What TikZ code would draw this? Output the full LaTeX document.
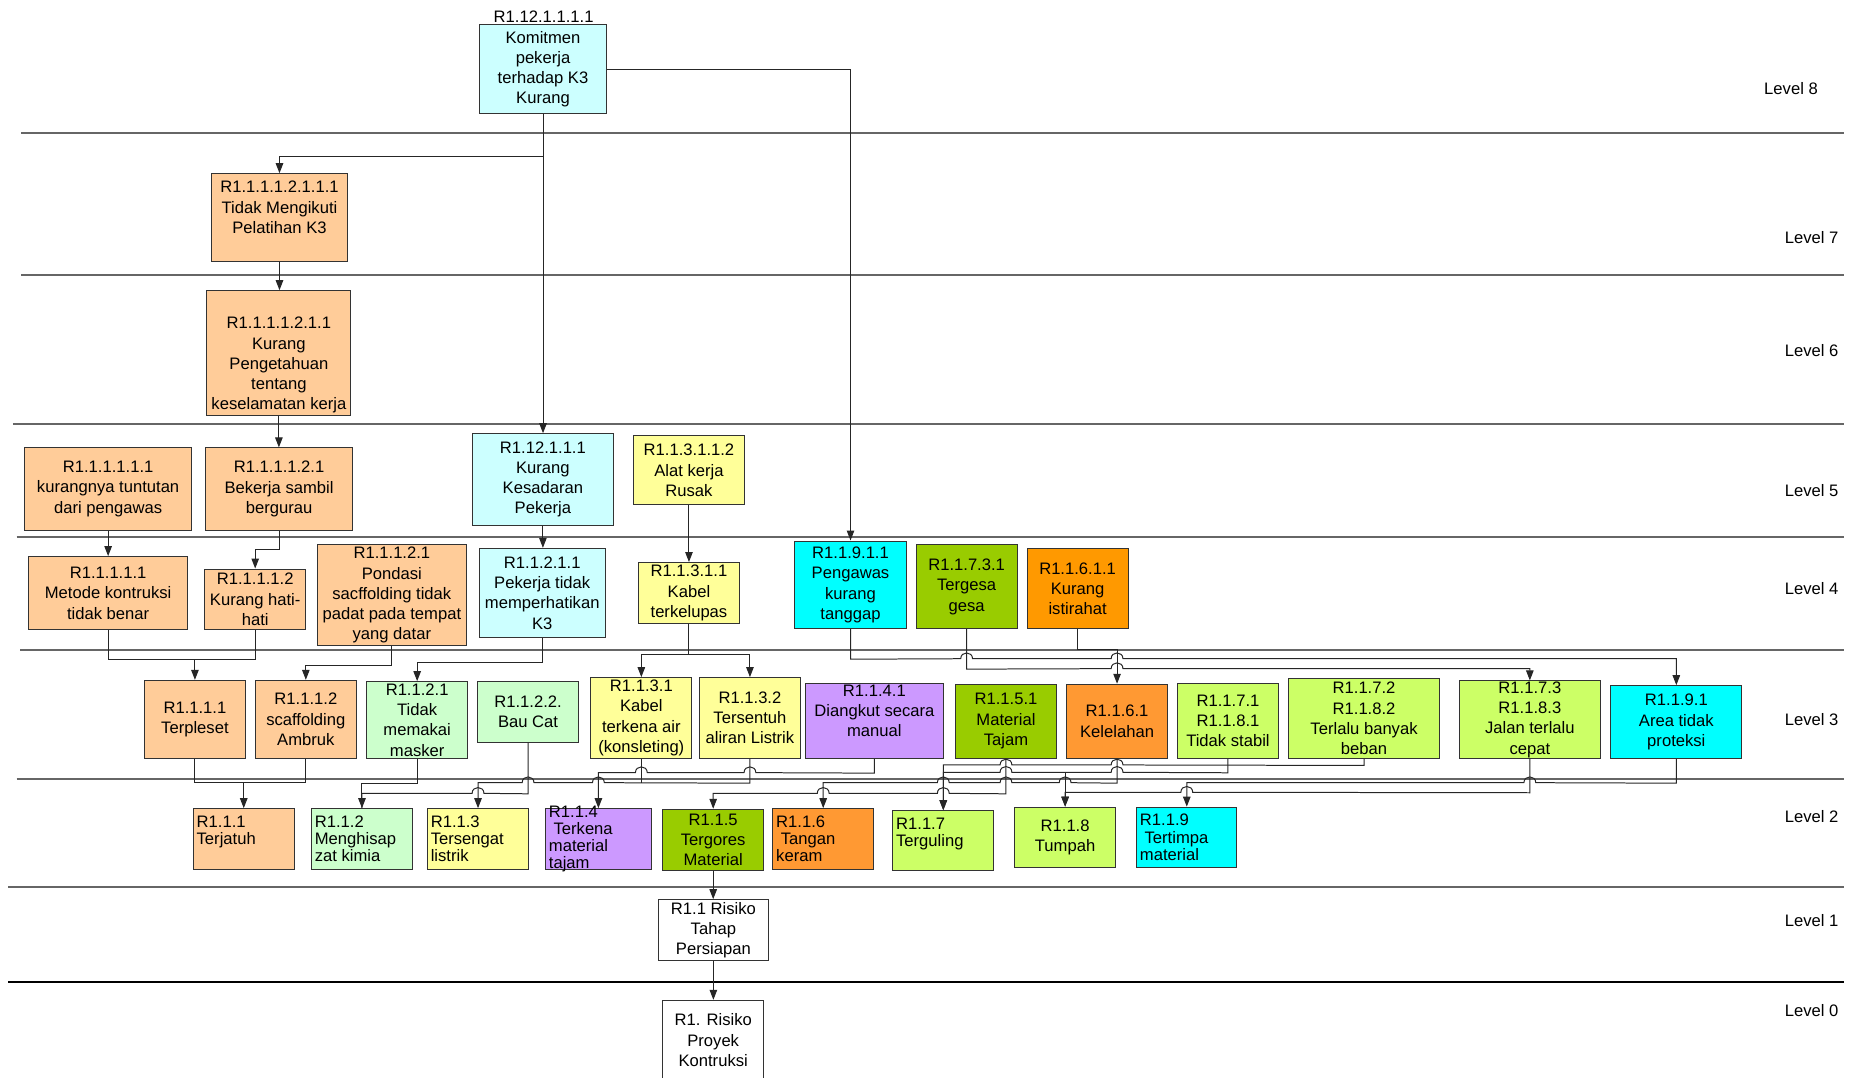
\documentclass[tikz,border=0pt]{standalone}
\usepackage{fontspec}
\setmainfont{Liberation Sans}
\usetikzlibrary{arrows.meta}
\definecolor{peach}{HTML}{FFCC99}
\definecolor{cyanL}{HTML}{CCFFFF}
\definecolor{yelL}{HTML}{FFFF99}
\definecolor{grnL}{HTML}{CCFFCC}
\definecolor{purp}{HTML}{CC99FF}
\definecolor{oliv}{HTML}{99CC00}
\definecolor{orng}{HTML}{FF9900}
\definecolor{orngB}{HTML}{FF9933}
\definecolor{limeB}{HTML}{CCFF66}
\definecolor{cyn}{HTML}{00FFFF}
\newcommand\txC{\centering}
\newcommand\txL{\raggedright\leftskip=2pt\relax}
\newcommand\mkbox[7]{%
  \pgfmathsetmacro\bcx{(#3+#5)/2}%
  \pgfmathsetmacro\bcy{(#4+#6)/2}%
  \pgfmathsetmacro\bw{(#5-#3)*0.025}%
  \pgfmathsetmacro\bh{(#6-#4)*0.025}%
  \node[boxs,#2] (#1) at (\bcx,\bcy) {\begin{minipage}[c][\bh cm][c]{\bw cm}#7\end{minipage}};%
}
\tikzset{
  boxs/.style={draw=black!80, line width=0.6pt, inner sep=0pt, font=\fontsize{10}{12.2}\selectfont},
  tight/.style={font=\fontsize{10}{10.4}\selectfont},
  conn/.style={draw=black!85, line width=0.6pt},
  arr/.style={conn, -{Triangle[length=6pt,width=4.5pt]}},
  lvl/.style={draw=black!60, line width=1.1pt},
  lvlz/.style={draw=black, line width=0.8pt},
  lvltxt/.style={font=\fontsize{10}{12}\selectfont, anchor=east, inner sep=0pt},
  jr/.style args={#1/#2}{insert path={-- (#1-5,#2) .. controls (#1-5,#2-6.5) and (#1+5,#2-6.5) .. (#1+5,#2)}},
  jl/.style args={#1/#2}{insert path={-- (#1+5,#2) .. controls (#1+5,#2-6.5) and (#1-5,#2-6.5) .. (#1-5,#2)}},
}
\begin{document}
\begin{tikzpicture}[x=0.025cm,y=-0.025cm]
\useasboundingbox (0,0) rectangle (1568,912);
% level separators
\draw[lvl] (18,112.5) -- (1560,112.5);
\draw[lvl] (18,232.7) -- (1560,232.7);
\draw[lvl] (11,358.8) -- (1560,358.8);
\draw[lvl] (14,454.4) -- (1560,454.4);
\draw[lvl] (17,550) -- (1560,550);
\draw[lvl] (14,659.2) -- (1560,659.2);
\draw[lvl] (7,750.6) -- (1560,750.6);
\draw[lvlz] (7,831) -- (1560,831);
% level labels
\node[lvltxt] (lv8) at (1538.5,74.7) {Level 8};
\node[lvltxt] (lv7) at (1556,200.8) {Level 7};
\node[lvltxt] (lv6) at (1556,297) {Level 6};
\node[lvltxt] (lv5) at (1556,415) {Level 5};
\node[lvltxt] (lv4) at (1556,497.8) {Level 4};
\node[lvltxt] (lv3) at (1556,608.7) {Level 3};
\node[lvltxt] (lv2) at (1556,691) {Level 2};
\node[lvltxt] (lv1) at (1556,779) {Level 1};
\node[lvltxt] (lv0) at (1556,855) {Level 0};
% level 8
\mkbox{K}{fill=cyanL}{406}{21}{513}{96}{\txC Komitmen\\pekerja\\terhadap K3\\Kurang}
\node[font=\fontsize{10}{12}\selectfont, inner sep=0pt] (Klabel) at (460,14) {R1.12.1.1.1.1};
% level 7
\mkbox{T7}{fill=peach}{179}{147}{294}{221}{\txC R1.1.1.1.2.1.1.1\\Tidak Mengikuti\\Pelatihan K3\\\mbox{}}
% level 6
\mkbox{T6}{fill=peach}{175}{246}{297}{352}{\txC \vspace*{0.32cm}\mbox{}\\R1.1.1.1.2.1.1\\Kurang\\Pengetahuan\\tentang\\keselamatan kerja}
% level 5
\mkbox{A5}{fill=peach}{21}{379}{162}{448.5}{\txC R1.1.1.1.1.1\\kurangnya tuntutan\\dari pengawas}
\mkbox{B5}{fill=peach}{174.3}{379}{298}{448.5}{\txC R1.1.1.1.2.1\\Bekerja sambil\\bergurau}
\mkbox{C5}{fill=cyanL}{399.8}{367}{519}{444.3}{\txC R1.12.1.1.1\\Kurang\\Kesadaran\\Pekerja}
\mkbox{D5}{fill=yelL}{536}{368.7}{630}{427.3}{\txC R1.1.3.1.1.2\\Alat kerja\\Rusak}
% level 4
\mkbox{A4}{fill=peach}{24.4}{471}{158.6}{533}{\txC R1.1.1.1.1\\Metode kontruksi\\tidak benar}
\mkbox{B4}{fill=peach}{173.3}{481.5}{258.6}{533}{\txC R1.1.1.1.2\\Kurang hati-\\hati}
\mkbox{C4}{fill=peach}{268.7}{461}{394.5}{546.4}{\txC R1.1.1.2.1\\Pondasi\\sacffolding tidak\\padat pada tempat\\yang datar}
\mkbox{D4}{fill=cyanL}{405.5}{464}{512.2}{539.6}{\txC R1.1.2.1.1\\Pekerja tidak\\memperhatikan\\K3}
\mkbox{E4}{fill=yelL}{540.2}{476}{625.8}{527.7}{\txC R1.1.3.1.1\\Kabel\\terkelupas}
\mkbox{F4}{fill=cyn}{672.4}{457.8}{767}{532}{\txC R1.1.9.1.1\\Pengawas\\kurang\\tanggap}
\mkbox{G4}{fill=oliv}{775.3}{461}{860.6}{532}{\txC R1.1.7.3.1\\Tergesa\\gesa}
\mkbox{H4}{fill=orng}{869.2}{464.5}{954.5}{532}{\txC R1.1.6.1.1\\Kurang\\istirahat}
% level 3
\mkbox{T3a}{fill=peach}{122.5}{575.7}{207.4}{641.7}{\txC R1.1.1.1\\Terpleset}
\mkbox{T3b}{fill=peach}{216.1}{575.7}{301.5}{641.7}{\txC R1.1.1.2\\scaffolding\\Ambruk}
\mkbox{T3c}{fill=grnL}{310.5}{576.8}{395.5}{641.7}{\txC R1.1.2.1\\Tidak\\memakai\\masker}
\mkbox{T3d}{fill=grnL}{404.2}{576.8}{489.5}{628}{\txC R1.1.2.2.\\Bau Cat}
\mkbox{T3e}{fill=yelL}{500}{573.4}{585.4}{641.7}{\txC R1.1.3.1\\Kabel\\terkena air\\(konsleting)}
\mkbox{T3f}{fill=yelL}{592}{573.4}{677.2}{641.7}{\txC R1.1.3.2\\Tersentuh\\aliran Listrik}
\mkbox{T3g}{fill=purp}{681.4}{578.2}{798.4}{641.7}{\txC R1.1.4.1\\Diangkut secara\\manual\\\mbox{}}
\mkbox{T3h}{fill=oliv}{808.8}{578.8}{893.7}{641.7}{\txC R1.1.5.1\\Material\\Tajam}
\mkbox{T3i}{fill=orngB}{902.6}{579}{987.9}{641.7}{\txC R1.1.6.1\\Kelelahan}
\mkbox{T3j}{fill=limeB}{996.2}{578.2}{1082}{641.7}{\txC R1.1.7.1\\R1.1.8.1\\Tidak stabil}
\mkbox{T3k}{fill=limeB}{1090.3}{574.5}{1218.2}{641.7}{\txC R1.1.7.2\\R1.1.8.2\\Terlalu banyak\\beban}
\mkbox{T3l}{fill=limeB}{1234.8}{576.2}{1354.3}{641.7}{\txC R1.1.7.3\\R1.1.8.3\\Jalan terlalu\\cepat}
\mkbox{T3m}{fill=cyn}{1363.1}{580.2}{1473.9}{641.7}{\txC R1.1.9.1\\Area tidak\\proteksi}
% level 2
\mkbox{L2a}{fill=peach,tight}{163.6}{684.3}{248.9}{735.6}{\txL R1.1.1\\Terjatuh\\\mbox{}}
\mkbox{L2b}{fill=grnL,tight}{263.6}{684.3}{349}{735.6}{\txL R1.1.2\\Menghisap\\zat kimia}
\mkbox{L2c}{fill=yelL,tight}{361.7}{684.3}{447.3}{735.6}{\txL R1.1.3\\Tersengat\\listrik}
\mkbox{L2d}{fill=purp,tight}{461.7}{684.3}{551}{735.6}{\txL R1.1.4\\\hspace*{2.8pt}Terkena\\material\\tajam}
\mkbox{L2e}{fill=oliv}{561}{684.8}{646}{736.2}{\txC R1.1.5\\Tergores\\Material}
\mkbox{L2f}{fill=orngB,tight}{654}{684.3}{739.2}{735.6}{\txL R1.1.6\\\hspace*{2.8pt}Tangan\\keram}
\mkbox{L2g}{fill=limeB,tight}{755.5}{686}{840.9}{737}{\txL R1.1.7\\Terguling\\\mbox{}}
\mkbox{L2h}{fill=limeB}{858.6}{683}{944}{734.2}{\txC R1.1.8\\Tumpah}
\mkbox{L2i}{fill=cyn,tight}{961.8}{683}{1046.7}{734.2}{\txL R1.1.9\\\hspace*{2.8pt}Tertimpa\\material}
% level 1 and 0
\mkbox{L1}{fill=white}{556.8}{761.3}{650.5}{812.6}{\txC R1.1 Risiko\\Tahap\\Persiapan}
\mkbox{L0}{fill=white}{561}{846.5}{646}{914}{\txC R1. Risiko\\Proyek\\Kontruksi}
% junction coordinates
\coordinate (jA) at (164.95,558.2);
\coordinate (jL2a) at (206.25,662.3);
\coordinate (jL2h) at (901.3,653.5);
% connectors level 8 -> 4
\draw[arr] (K.south) -- ++(0,36) -| (T7.north);
\draw[arr] (K.south) -- (K.south |- C5.north);
\draw[arr] (K.east) -| (F4.north);
\draw[arr] (T7.south) -- (T7.south |- T6.north);
\draw[arr] (T6.south) -- (T6.south |- B5.north);
\draw[arr] (A5.south) -- (A5.south |- A4.north);
\draw[arr] (B5.south) -- ++(0,16) -| (B4.north);
\draw[arr] (C5.south) -- (C5.south |- D4.north);
\draw[arr] (D5.south) -- (D5.south |- E4.north);
% level 4 -> 3
\draw[conn] (A4.south) |- (jA) -| (B4.south);
\draw[arr] (jA) -- (T3a.north);
\draw[arr] (C4.south) -- ++(0,16.6) -| (T3b.north);
\draw[arr] (D4.south) -- ++(0,20.8) -| (T3c.north);
\draw[conn] (E4.south) -- ++(0,25.7) coordinate (jE);
\draw[arr] (jE) -| (T3e.north);
\draw[arr] (jE) -| (T3f.north);
\draw[arr] (F4.south) -- ++(0,25.4) [jr=817.95/557.4] [jr=945.25/557.4] -| (T3m.north);
\draw[arr] (G4.south) -- ++(0,33.8) [jr=945.25/565.8] -| (T3l.north);
\draw[arr] (H4.south) -- ++(0,17) -| (T3i.north);
% level 3 -> 2
\draw[conn] (T3a.south) |- (jL2a) -| (T3b.south);
\draw[arr] (jL2a) -- (L2a.north);
\draw[arr] (T3c.south) -- ++(0,20.6) -| (L2b.north);
\draw[conn] (T3d.south) -- ++(0,43.3) [jl=404.5/671.3] -| (L2b.north);
\draw[conn] (T3e.south) -- ++(0,20.6);
\draw[arr] (T3f.south) -- ++(0,20.6) [jl=506.35/662.3] [jl=446.85/662.3] -| (L2c.north);
\draw[arr] (T3g.south) -- ++(0,12.1) [jl=634.6/653.8] [jl=542.7/653.8] -| (L2d.north);
\draw[arr] (T3h.south) -- ++(0,29.6) [jl=798.2/671.3] [jl=696.6/671.3] -| (L2e.north);
\draw[arr] (T3i.south) -- ++(0,20.6) [jl=901.3/662.3] [jl=851.25/662.3] [jl=798.2/662.3] -| (L2f.north);
\draw[arr] (T3j.south) -- ++(0,11.8) [jl=945.25/653.5] [jl=851.25/653.5] -| (L2g.north);
\draw[arr] (jL2h) -- (L2h.north);
\draw[arr] (T3k.south) -- ++(0,5.6) [jl=945.25/647.3] [jl=851.25/647.3] -| (L2g.north);
\draw[arr] (T3l.south) -- ++(0,28.7) [jl=1004.25/670.4] -| (L2h.north);
\draw[arr] (T3m.south) -- ++(0,20.6) [jl=1294.55/662.3] -| (L2i.north);
% level 2 -> 0
\draw[arr] (L2e.south) -- (L2e.south |- L1.north);
\draw[arr] (L1.south) -- (L1.south |- L0.north);
\end{tikzpicture}
\end{document}
